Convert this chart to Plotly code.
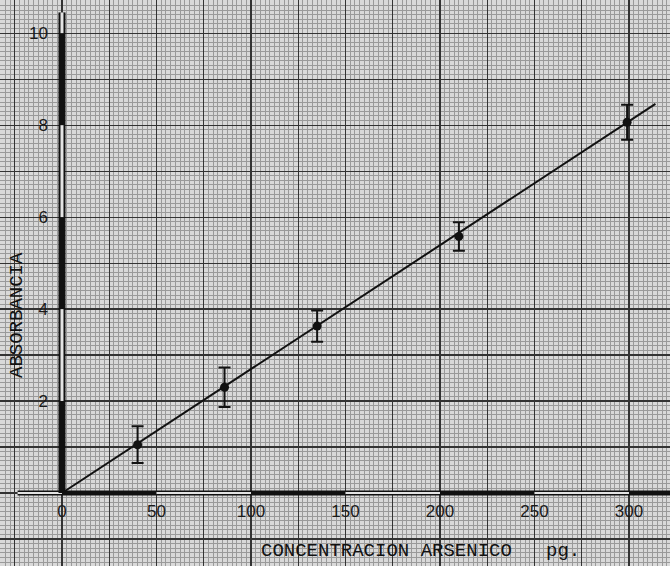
import numpy as np
import plotly.graph_objects as go

# ---- data ----
conc = [40, 86, 135, 210, 299]            # CONCENTRACION ARSENICO (pg)
absorb = [1.05, 2.30, 3.63, 5.58, 8.06]   # ABSORBANCIA
err = [0.40, 0.43, 0.34, 0.31, 0.38]      # error bar half-lengths
fit_x = [0, 314]
fit_y = [0, 8.46]

x_ticks = [0, 50, 100, 150, 200, 250, 300]
y_ticks = [2, 4, 6, 8, 10]

# ---- layout parameters ----
W, H = 670, 566
x_range = [-32.8, 321.7]
y_range = [-1.587, 10.72]
x_axis_start, x_axis_end = -23.5, 321.7
y_axis_end = 10.45

BG = "#d9d9d9"
INK = "#111111"

fig = go.Figure()

# alternating filled / hollow axis bars (scale-bar style)
def bar(xs, ys, filled, width, inner):
    fig.add_trace(go.Scatter(x=xs, y=ys, mode="lines", hoverinfo="skip",
                             line=dict(color=INK, width=width), showlegend=False))
    if not filled:
        fig.add_trace(go.Scatter(x=xs, y=ys, mode="lines", hoverinfo="skip",
                                 line=dict(color="#e4e4e4", width=inner), showlegend=False))

# x axis segments from tick positions
x_edges = [x_axis_start] + x_ticks + [x_axis_end]
for i in range(len(x_edges) - 1):
    a, b = x_edges[i], x_edges[i + 1]
    filled = (i % 2 == 1)
    bar([a, b], [0, 0], filled, 5, 1.8)

# y axis segments
y_edges = [0] + y_ticks + [y_axis_end]
for i in range(len(y_edges) - 1):
    a, b = y_edges[i], y_edges[i + 1]
    filled = (i % 2 == 0)
    bar([0, 0], [a, b], filled, 7, 3)

# fitted line
fig.add_trace(go.Scatter(x=fit_x, y=fit_y, mode="lines",
                         line=dict(color=INK, width=2), showlegend=False))

# data points with error bars
fig.add_trace(go.Scatter(
    x=conc, y=absorb, mode="markers",
    marker=dict(color=INK, size=9),
    error_y=dict(type="data", array=err, visible=True, color=INK,
                 thickness=2, width=6),
    showlegend=False))

# grid (graph paper)
x_grid = list(np.arange(-25, 325, 25))
y_grid = list(np.arange(-1, 11, 1))
x_text = [str(int(v)) if v in x_ticks else "" for v in x_grid]
y_text = [str(int(v)) if v in y_ticks else "" for v in y_grid]

xpos = (0 - y_range[0]) / (y_range[1] - y_range[0])
ypos = (0 - x_range[0]) / (x_range[1] - x_range[0])

tick_font = dict(family="Liberation Sans", size=17, color="#1a1a1a")

fig.update_layout(
    width=W, height=H,
    margin=dict(l=0, r=0, t=0, b=0, pad=0),
    paper_bgcolor=BG, plot_bgcolor=BG,
    xaxis=dict(range=x_range, tickvals=x_grid, ticktext=x_text,
               showgrid=True, gridcolor="#333333", gridwidth=1.1,
               zeroline=False, showline=False, ticks="",
               anchor="free", position=xpos, tickfont=tick_font,
               ticklabelstandoff=6, automargin=False,
               minor=dict(dtick=2.5, tick0=0, showgrid=True,
                          gridcolor="#9a9a9a", gridwidth=1)),
    yaxis=dict(range=y_range, tickvals=y_grid, ticktext=y_text,
               showgrid=True, gridcolor="#333333", gridwidth=1.1,
               zeroline=False, showline=False, ticks="",
               anchor="free", position=ypos, tickfont=tick_font,
               ticklabelstandoff=14, automargin=False,
               minor=dict(dtick=0.1, tick0=0, showgrid=True,
                          gridcolor="#9a9a9a", gridwidth=1)),
    annotations=[
        dict(text="CONCENTRACION ARSENICO\u00a0\u00a0\u00a0pg.",
             xref="paper", yref="paper", x=420 / W, y=1 - 551 / H,
             showarrow=False, xanchor="center", yanchor="middle",
             font=dict(family="Liberation Mono", size=19, color=INK)),
        dict(text="ABSORBANCIA",
             xref="paper", yref="paper", x=17 / W, y=1 - 315 / H,
             showarrow=False, textangle=-90, xanchor="center", yanchor="middle",
             font=dict(family="Liberation Mono", size=19, color=INK)),
    ],
)

fig.write_html("out.html",
               config={"displayModeBar": False, "staticPlot": True},
               post_script="document.body.style.margin='0';document.body.style.overflow='hidden';")
